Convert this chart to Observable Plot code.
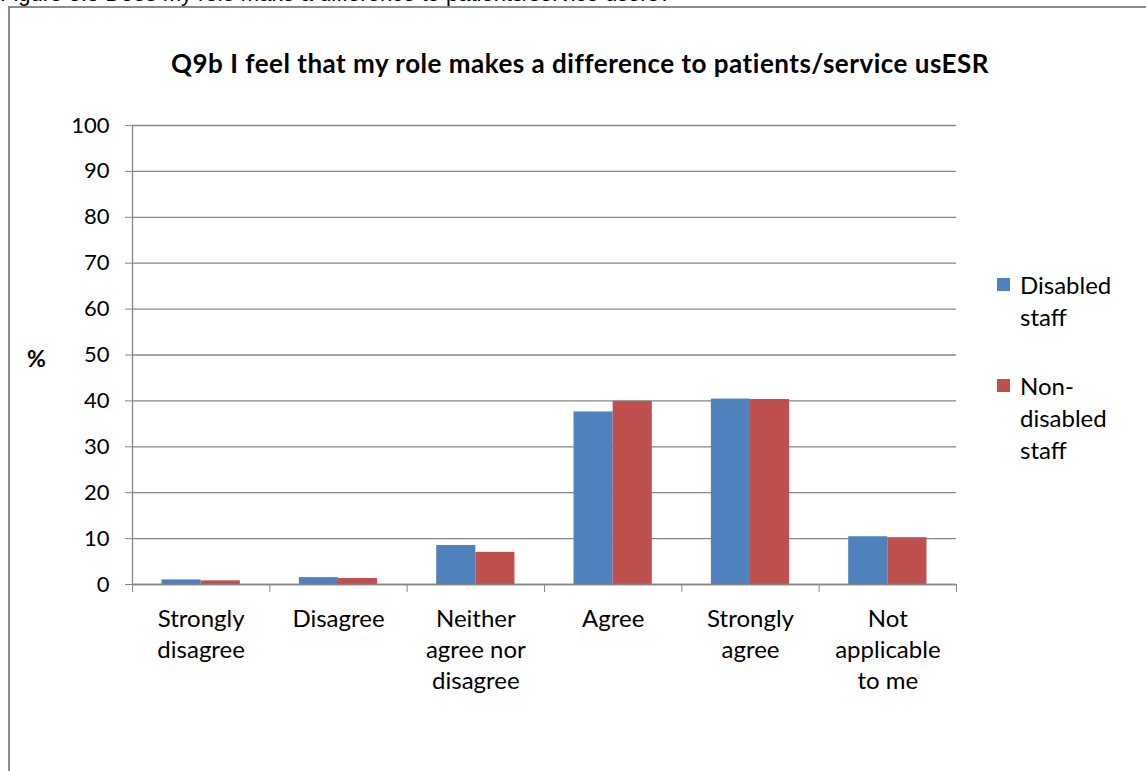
<!DOCTYPE html>
<html><head><meta charset="utf-8">
<script src="https://cdn.jsdelivr.net/npm/d3@7"></script>
<script src="https://cdn.jsdelivr.net/npm/@observablehq/plot@0.6"></script>
<style>
html,body{margin:0;padding:0;background:#fff}
body{width:1146px;height:771px;overflow:hidden;position:relative;font-family:Lato,"Open Sans",sans-serif;color:#000}
#caption{position:absolute;left:0;top:-17px;font:22px/22px "Liberation Sans",Arial,sans-serif;white-space:nowrap}
#frame{position:absolute;left:8px;top:6px;width:1300px;height:900px;border:2px solid #8c8c8c;box-sizing:border-box}
#title{position:absolute;top:47px;left:0;width:1160px;text-align:center;font-weight:bold;font-size:26px;letter-spacing:0.5px}
#chart{position:absolute;left:0;top:100px}
#pct{position:absolute;left:27px;top:344px;font-weight:bold;font-size:23px}
.leg{position:absolute;left:997px;font-size:24px;line-height:32px}
.leg i{position:absolute;left:0;top:9px;width:13px;height:13px}
.leg span{position:absolute;left:23px;top:0;white-space:nowrap}
</style></head>
<body>
<div id="caption">Figure 8.8 Does my role make a difference to patients/service users?</div>
<div id="frame"></div>
<div id="title">Q9b I feel that my role makes a difference to patients/service usESR</div>
<div id="pct">%</div>
<div id="chart"></div>
<div id="legend"></div>
<script>
const categories = ["Strongly disagree", "Disagree", "Neither agree nor disagree", "Agree", "Strongly agree", "Not applicable to me"];
const categoryLabels = ["Strongly\ndisagree", "Disagree", "Neither\nagree nor\ndisagree", "Agree", "Strongly\nagree", "Not\napplicable\nto me"];
const series = ["Disabled staff", "Non-disabled staff"];
const legendLabels = ["Disabled\nstaff", "Non-\ndisabled\nstaff"];
const disabledValues = [1.0, 1.5, 8.5, 37.6, 40.4, 10.4];
const nonDisabledValues = [0.8, 1.3, 7.0, 39.9, 40.3, 10.2];
const yTicks = [0, 10, 20, 30, 40, 50, 60, 70, 80, 90, 100];
const colors = ["#4F81BD", "#C0504D"];

const valuesBySeries = [disabledValues, nonDisabledValues];
const rows = categories.flatMap((c, i) => series.map((s, k) => ({category: c, index: i, seriesIndex: k, series: s, value: valuesBySeries[k][i]})));
const boundaries = d3.range(categories.length + 1);

const gap = 0.215, bw = 0.285;
const grid = "#868686";

const chart = Plot.plot({
  width: 1146,
  height: 620,
  marginLeft: 132,
  marginRight: 190,
  marginTop: 25,
  marginBottom: 136,
  style: {fontFamily: "Lato, 'Open Sans', sans-serif", background: "transparent", overflow: "visible"},
  x: {type: "linear", domain: [0, categories.length]},
  y: {domain: [0, 100]},
  color: {domain: series, range: colors},
  marks: [
    Plot.ruleY(yTicks, {stroke: grid, strokeWidth: 1.3}),
    Plot.rectY(rows, {
      x1: d => d.index + gap + d.seriesIndex * bw,
      x2: d => d.index + gap + (d.seriesIndex + 1) * bw,
      y1: 0, y2: "value", fill: "series"
    }),
    Plot.ruleX([0], {y1: 0, y2: 100, stroke: grid, strokeWidth: 1.3}),
    Plot.ruleY([0], {stroke: grid, strokeWidth: 1.3}),
    Plot.axisY({ticks: yTicks, tickSize: 7, tickPadding: 16, fontSize: 22, stroke: grid, fill: "#000", label: null}),
    Plot.axisX({ticks: boundaries, tickSize: 8, tickFormat: () => "", stroke: grid, label: null}),
    Plot.text(categoryLabels, {x: (d, i) => i + 0.5, y: 0, dy: 20, lineAnchor: "top", lineHeight: 1.3, fontSize: 24, fill: "#000"})
  ]
});
document.getElementById("chart").appendChild(chart);

const legend = document.getElementById("legend");
const legTops = [269, 370];
series.forEach((s, k) => {
  const d = document.createElement("div");
  d.className = "leg";
  d.style.top = legTops[k] + "px";
  const sw = document.createElement("i");
  sw.style.background = colors[k];
  d.appendChild(sw);
  legendLabels[k].split("\n").forEach((line, j) => {
    const t = document.createElement("span");
    t.textContent = line;
    t.style.top = (j * 32) + "px";
    d.appendChild(t);
  });
  legend.appendChild(d);
});
</script>
</body></html>
